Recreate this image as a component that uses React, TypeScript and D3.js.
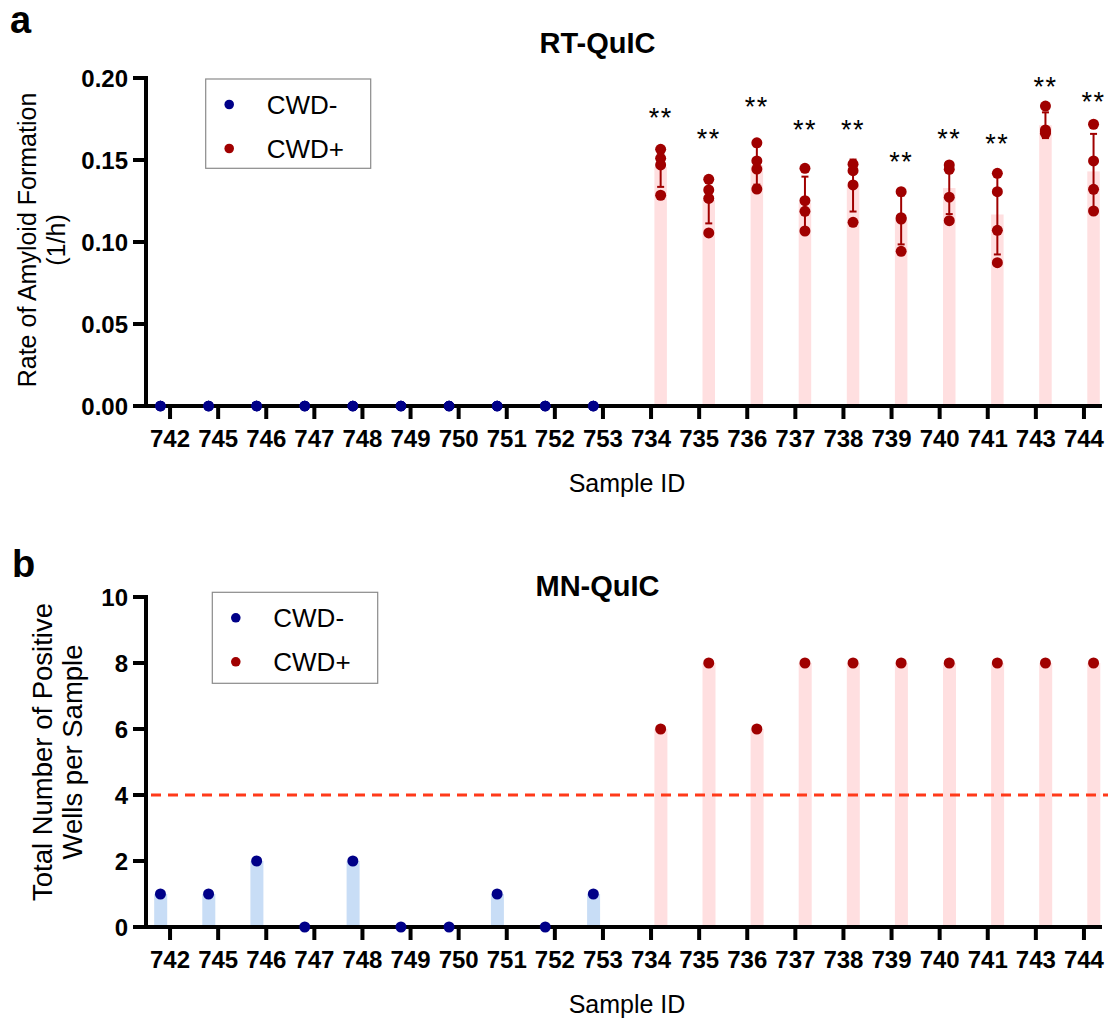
import React from "react";
import * as d3 from "d3";

// ---------- data ----------
const sampleIds = ["742","745","746","747","748","749","750","751","752","753","734","735","736","737","738","739","740","741","743","744"];
const groups = ["CWD-", "CWD+"];
const negativeIds = ["742","745","746","747","748","749","750","751","752","753"];
const positiveIds = ["734","735","736","737","738","739","740","741","743","744"];

// RT-QuIC rate of amyloid formation (1/h), replicate wells
const rtNegativeReps = [
  [0,0,0,0],[0,0,0,0],[0,0,0,0],[0,0,0,0],[0,0,0,0],
  [0,0,0,0],[0,0,0,0],[0,0,0,0],[0,0,0,0],[0,0,0,0],
];
const rtPositiveReps = [
  [0.1565, 0.151, 0.147, 0.1285],
  [0.1382, 0.1317, 0.1266, 0.1055],
  [0.1605, 0.1494, 0.1445, 0.1323],
  [0.1449, 0.1252, 0.1187, 0.1067],
  [0.1474, 0.1435, 0.1348, 0.112],
  [0.1307, 0.1148, 0.114, 0.0943],
  [0.147, 0.1443, 0.1273, 0.113],
  [0.1419, 0.1307, 0.1071, 0.0874],
  [0.1829, 0.1683, 0.1673, 0.1663],
  [0.1718, 0.1494, 0.1321, 0.1189],
];
// level of the "**" significance marks (1/h)
const starLevels = [0.1795, 0.1665, 0.1862, 0.1718, 0.1718, 0.1524, 0.1663, 0.1632, 0.198, 0.1888];

// MN-QuIC total positive wells per sample
const mnNegative = [1, 1, 2, 0, 2, 0, 0, 1, 0, 1];
const mnPositive = [6, 8, 6, 8, 8, 8, 8, 8, 8, 8];
const mnThreshold = 4;

const rtTicks = [0, 0.05, 0.1, 0.15, 0.2];
const mnTicks = [0, 2, 4, 6, 8, 10];

// ---------- styles ----------
const FONT = "'Liberation Sans', Arial, Helvetica, sans-serif";
const BLUE = "#000088";
const RED = "#A00000";
const PINK = "#FFDFE0";
const LIGHTBLUE = "#C8DDF6";
const AXIS_W = 4;

const W = 1112, H = 1020;
const xLeft = 146, xRight = 1108, axisEnd = 1102;

const xBand = d3.scaleBand<string>().domain(sampleIds).range([xLeft, xRight]).padding(0);
const xSub = d3.scaleBand<string>().domain(groups).range([-19.2, 19.2]).padding(0);
const xPos = (id: string, g: string) =>
  (xBand(id) as number) + xBand.bandwidth() / 2 + (xSub(g) as number) + xSub.bandwidth() / 2;
const xTick = (id: string) => (xBand(id) as number) + xBand.bandwidth() / 2;

const yRT = d3.scaleLinear().domain([0, 0.2]).range([406, 78]);
const yMN = d3.scaleLinear().domain([0, 10]).range([927, 597]);

const BAR_W = 12.5;

function XAxis({ y }: { y: number }) {
  return (
    <g>
      <line x1={133} x2={axisEnd} y1={y} y2={y} stroke="#000" strokeWidth={AXIS_W} />
      {sampleIds.map((id) => (
        <g key={id}>
          <line x1={xTick(id)} x2={xTick(id)} y1={y} y2={y + 13} stroke="#000" strokeWidth={AXIS_W} />
          <text x={xTick(id)} y={y + 40.5} textAnchor="middle" fontFamily={FONT} fontWeight="bold" fontSize={24}>
            {id}
          </text>
        </g>
      ))}
      <text x={627} y={y + 86} textAnchor="middle" fontFamily={FONT} fontSize={25}>Sample ID</text>
    </g>
  );
}

function YAxis({ scale, ticks, fmt }: { scale: d3.ScaleLinear<number, number>; ticks: number[]; fmt: (v: number) => string }) {
  const [y0, y1] = scale.range();
  return (
    <g>
      <line x1={xLeft} x2={xLeft} y1={y0 + AXIS_W / 2} y2={y1 - AXIS_W / 2} stroke="#000" strokeWidth={AXIS_W} />
      {ticks.map((t) => (
        <g key={t}>
          <line x1={133} x2={xLeft} y1={scale(t)} y2={scale(t)} stroke="#000" strokeWidth={AXIS_W} />
          <text x={128} y={scale(t) + 8.5} textAnchor="end" fontFamily={FONT} fontWeight="bold" fontSize={24}>
            {fmt(t)}
          </text>
        </g>
      ))}
    </g>
  );
}

function Legend({ x, y, w, h }: { x: number; y: number; w: number; h: number }) {
  return (
    <g>
      <rect x={x} y={y} width={w} height={h} fill="#fff" stroke="#8a8a8a" strokeWidth={1.2} />
      <circle cx={x + 23.5} cy={y + 25.5} r={4.8} fill={BLUE} />
      <text x={x + 61} y={y + 34.5} fontFamily={FONT} fontSize={26}>CWD-</text>
      <circle cx={x + 23.5} cy={y + 69.5} r={4.8} fill={RED} />
      <text x={x + 61} y={y + 78.5} fontFamily={FONT} fontSize={26}>CWD+</text>
    </g>
  );
}

export default function App() {
  const rtPosStats = rtPositiveReps.map((reps) => {
    const m = d3.mean(reps) as number;
    const sd = d3.deviation(reps) as number;
    return { m, sd };
  });
  const rtNegMeans = rtNegativeReps.map((r) => d3.mean(r) as number);

  return (
    <div>
      <style>{`body{margin:0}`}</style>
      <svg width={W} height={H} viewBox={`0 0 ${W} ${H}`} style={{ display: "block", background: "#fff" }}>
        {/* ===== Panel a ===== */}
        <text x={10} y={33} fontFamily={FONT} fontWeight="bold" fontSize={38}>a</text>
        <text x={597.5} y={53} textAnchor="middle" fontFamily={FONT} fontWeight="bold" fontSize={29}>RT-QuIC</text>
        <text transform={`translate(36,240) rotate(-90)`} textAnchor="middle" fontFamily={FONT} fontSize={25}>
          Rate of Amyloid Formation
        </text>
        <text transform={`translate(65,240) rotate(-90)`} textAnchor="middle" fontFamily={FONT} fontSize={25}>
          (1/h)
        </text>

        {/* bars */}
        {negativeIds.map((id, i) => (
          <rect key={"nb" + id} x={xPos(id, "CWD-") - BAR_W / 2} y={yRT(rtNegMeans[i])} width={BAR_W}
            height={yRT(0) - yRT(rtNegMeans[i])} fill={LIGHTBLUE} />
        ))}
        {positiveIds.map((id, i) => (
          <rect key={"pb" + id} x={xPos(id, "CWD+") - BAR_W / 2} y={yRT(rtPosStats[i].m)} width={BAR_W}
            height={yRT(0) - yRT(rtPosStats[i].m)} fill={PINK} />
        ))}
        {/* error bars */}
        {positiveIds.map((id, i) => {
          const cx = xPos(id, "CWD+");
          const { m, sd } = rtPosStats[i];
          const yt = yRT(m + sd), yb = yRT(m - sd);
          return (
            <g key={"eb" + id} stroke={RED} strokeWidth={2}>
              <line x1={cx} x2={cx} y1={yt} y2={yb} />
              <line x1={cx - 3.5} x2={cx + 3.5} y1={yt} y2={yt} />
              <line x1={cx - 3.5} x2={cx + 3.5} y1={yb} y2={yb} />
            </g>
          );
        })}

        <YAxis scale={yRT} ticks={rtTicks} fmt={(v) => v.toFixed(2)} />
        <XAxis y={406} />

        {/* points */}
        {negativeIds.map((id, i) =>
          rtNegativeReps[i].map((v, j) => (
            <circle key={"np" + id + j} cx={xPos(id, "CWD-")} cy={yRT(v)} r={5.2} fill={BLUE} />
          ))
        )}
        {positiveIds.map((id, i) =>
          rtPositiveReps[i].map((v, j) => (
            <circle key={"pp" + id + j} cx={xPos(id, "CWD+")} cy={yRT(v)} r={5.5} fill={RED} />
          ))
        )}
        {/* significance */}
        {positiveIds.map((id, i) => (
          <text key={"st" + id} x={xPos(id, "CWD+")} y={yRT(starLevels[i]) + 15} textAnchor="middle"
            fontFamily={FONT} fontSize={27} letterSpacing={1.5}>**</text>
        ))}

        <Legend x={205.7} y={79} w={165} h={89.3} />

        {/* ===== Panel b ===== */}
        <text x={12} y={577} fontFamily={FONT} fontWeight="bold" fontSize={38}>b</text>
        <text x={597.5} y={596} textAnchor="middle" fontFamily={FONT} fontWeight="bold" fontSize={29}>MN-QuIC</text>
        <text transform={`translate(52,752) rotate(-90)`} textAnchor="middle" fontFamily={FONT} fontSize={27.5}>
          Total Number of Positive
        </text>
        <text transform={`translate(82,752) rotate(-90)`} textAnchor="middle" fontFamily={FONT} fontSize={27.5}>
          Wells per Sample
        </text>

        {negativeIds.map((id, i) => (
          <rect key={"mnb" + id} x={xPos(id, "CWD-") - BAR_W / 2} y={yMN(mnNegative[i])} width={BAR_W + 0.5}
            height={yMN(0) - yMN(mnNegative[i])} fill={LIGHTBLUE} />
        ))}
        {positiveIds.map((id, i) => (
          <rect key={"mpb" + id} x={xPos(id, "CWD+") - BAR_W / 2} y={yMN(mnPositive[i])} width={BAR_W + 0.5}
            height={yMN(0) - yMN(mnPositive[i])} fill={PINK} />
        ))}

        <line x1={xLeft + 5} x2={xRight} y1={yMN(mnThreshold)} y2={yMN(mnThreshold)} stroke="#FF3A1A"
          strokeWidth={3} strokeDasharray="10 7" />

        <YAxis scale={yMN} ticks={mnTicks} fmt={(v) => String(v)} />
        <XAxis y={927} />

        {negativeIds.map((id, i) => (
          <circle key={"mnp" + id} cx={xPos(id, "CWD-")} cy={yMN(mnNegative[i])} r={5.5} fill={BLUE} />
        ))}
        {positiveIds.map((id, i) => (
          <circle key={"mpp" + id} cx={xPos(id, "CWD+")} cy={yMN(mnPositive[i])} r={5.5} fill={RED} />
        ))}

        <Legend x={212.3} y={592.3} w={165.4} h={91} />
      </svg>
    </div>
  );
}
